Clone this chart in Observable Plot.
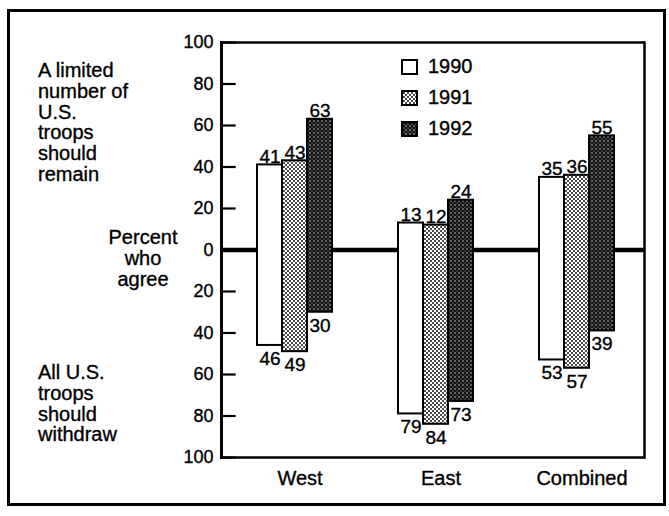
<!DOCTYPE html>
<html>
<head>
<meta charset="utf-8">
<script src="https://cdn.jsdelivr.net/npm/d3@7"></script>
<script src="https://cdn.jsdelivr.net/npm/@observablehq/plot@0.6"></script>
<style>
  body { margin: 0; background: #fff; }
  #wrap { position: relative; width: 669px; height: 516px; font-family: "Liberation Sans", Arial, Helvetica, sans-serif; color: #000; overflow: hidden; }
  #chart { position: absolute; left: 0; top: 0; }
  #chart svg text { stroke: #000; stroke-width: 0.35px; }
  .box { position: absolute; left: 7px; top: 9px; width: 659px; height: 497px; border: 3px solid #000; box-sizing: border-box; }
  .note { position: absolute; font-size: 20px; line-height: 20.8px; white-space: nowrap; -webkit-text-stroke: 0.35px #000; }
  .legend { position: absolute; left: 401px; top: 51px; font-size: 20px; -webkit-text-stroke: 0.35px #000; }
  .legend .row { display: flex; align-items: center; height: 31px; }
  .legend svg { margin-right: 10px; }
</style>
</head>
<body>
<svg width="0" height="0" style="position:absolute">
  <defs>
    <pattern id="p1991" patternUnits="userSpaceOnUse" width="4" height="4">
      <rect width="4" height="4" fill="#fff"></rect>
      <circle cx="1" cy="1" r="0.95" fill="#000"></circle>
      <circle cx="3" cy="3" r="0.95" fill="#000"></circle>
    </pattern>
    <pattern id="p1992" patternUnits="userSpaceOnUse" width="4" height="4">
      <rect width="4" height="4" fill="#111"></rect>
      <circle cx="1" cy="1" r="0.7" fill="#fff"></circle>
      <circle cx="3" cy="3" r="0.6" fill="#bbb"></circle>
    </pattern>
  </defs>
</svg>
<div id="wrap">
  <div id="chart"></div>
  <div class="note" id="noteRemain" style="left:38px; top:60px;"></div>
  <div class="note" id="noteMiddle" style="left:88px; width:110px; top:227px; text-align:center;"></div>
  <div class="note" id="noteWithdraw" style="left:38px; top:362px;"></div>
  <div class="legend" id="legend"></div>
  <div class="box"></div>
</div>
<script>
// ---- data ----
const regions = ["West", "East", "Combined"];
const years = ["1990", "1991", "1992"];
const remain1990 = [41, 13, 35];
const remain1991 = [43, 12, 36];
const remain1992 = [63, 24, 55];
const withdraw1990 = [46, 79, 53];
const withdraw1991 = [49, 84, 57];
const withdraw1992 = [30, 73, 39];
const yTicks = [-100, -80, -60, -40, -20, 0, 20, 40, 60, 80, 100];
const yearFills = ["#ffffff", "url(#p1991)", "url(#p1992)"];
const remainLabel = ["A limited", "number of", "U.S.", "troops", "should", "remain"];
const middleLabel = ["Percent", "who", "agree"];
const withdrawLabel = ["All U.S.", "troops", "should", "withdraw"];

const FONT = '"Liberation Sans", Arial, Helvetica, sans-serif';

const W = 669, ML = 220, MR = 25, TICK = 15;
const facetWidth = (W - ML - MR) / regions.length;

const remainByYear = [remain1990, remain1991, remain1992];
const withdrawByYear = [withdraw1990, withdraw1991, withdraw1992];
const rows = years.flatMap((year, j) =>
  regions.map((region, i) => ({ region, year, remain: remainByYear[j][i], withdraw: withdrawByYear[j][i] }))
);
// tick rows belong to the first (left-most) facet
const tickRows = yTicks.map(v => ({ region: regions[0], v }));

const chart = Plot.plot({
  width: W,
  height: 516,
  marginLeft: ML,
  marginRight: MR,
  marginTop: 42,
  marginBottom: 59,
  style: { background: "none", fontFamily: FONT, fontSize: "17px", color: "#000" },
  fx: { domain: regions, padding: 0, label: null },
  x: { domain: years, paddingInner: 0, paddingOuter: 1.22, align: 0.55, axis: null },
  y: { domain: [-100, 100], label: null },
  color: { domain: years, range: yearFills },
  marks: [
    Plot.ruleY([-100, 100], { stroke: "#000", strokeWidth: 2.5 }),
    Plot.ruleY([0], { stroke: "#000", strokeWidth: 4.5 }),
    Plot.ruleY(tickRows, { fx: "region", y: "v", insetRight: facetWidth - TICK, stroke: "#000", strokeWidth: 2.2 }),
    Plot.frame({ anchor: "left", facetAnchor: "left", stroke: "#000", strokeWidth: 3 }),
    Plot.frame({ anchor: "right", facetAnchor: "right", stroke: "#000", strokeWidth: 2.5 }),
    Plot.axisY({ ticks: yTicks, tickSize: 0, tickPadding: 8, tickFormat: d => Math.abs(d), fontSize: 18, label: null }),
    Plot.barY(rows, { fx: "region", x: "year", y1: d => -d.withdraw, y2: "remain", fill: "year", stroke: "#000", strokeWidth: 2 }),
    Plot.text(rows, { fx: "region", x: "year", y: "remain", text: "remain", lineAnchor: "bottom", dy: -2, fontSize: 19 }),
    Plot.text(rows, { fx: "region", x: "year", y: d => -d.withdraw, text: "withdraw", lineAnchor: "top", dy: 6, fontSize: 19 }),
    Plot.axisFx({ anchor: "bottom", tickSize: 0, tickPadding: 13, fontSize: 20, label: null, dx: 8 })
  ]
});
document.getElementById("chart").appendChild(chart);

function fillNote(id, lines) {
  document.getElementById(id).innerHTML = lines.map(l => `<div>${l}</div>`).join("");
}
fillNote("noteRemain", remainLabel);
fillNote("noteMiddle", middleLabel);
fillNote("noteWithdraw", withdrawLabel);

const legend = document.getElementById("legend");
legend.innerHTML = years.map((y, i) =>
  `<div class="row"><svg width="17" height="16"><rect x="1" y="1" width="15" height="14" fill="${yearFills[i]}" stroke="#000" stroke-width="2"></rect></svg><span>${y}</span></div>`
).join("");
</script>
</body>
</html>
